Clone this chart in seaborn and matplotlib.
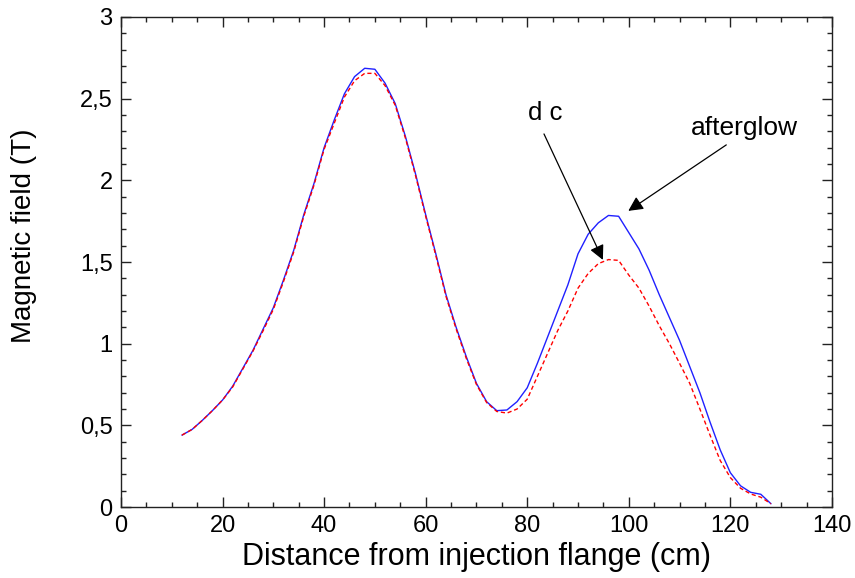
import numpy as np
import pandas as pd
import matplotlib
matplotlib.use("Agg")
import matplotlib.pyplot as plt
from matplotlib.ticker import MultipleLocator, FuncFormatter
import seaborn as sns

# distance from injection flange (cm)
distance = list(range(12, 130, 2))

# afterglow field (T)
afterglow = [0.44, 0.475, 0.53, 0.59, 0.655, 0.74, 0.85, 0.96, 1.09, 1.22,
             1.39, 1.57, 1.79, 1.98, 2.20, 2.37, 2.53, 2.635, 2.686, 2.68,
             2.595, 2.47, 2.27, 2.04, 1.79, 1.55, 1.30, 1.10, 0.92, 0.757,
             0.645, 0.59, 0.594, 0.645, 0.73, 0.88, 1.04, 1.20, 1.36, 1.55,
             1.67, 1.74, 1.785, 1.78, 1.68, 1.58, 1.45, 1.30, 1.16, 1.02,
             0.86, 0.70, 0.52, 0.35, 0.21, 0.13, 0.09, 0.078, 0.02]

# dc field (T)
dc = [0.44, 0.475, 0.53, 0.59, 0.655, 0.735, 0.845, 0.955, 1.08, 1.21,
      1.38, 1.56, 1.78, 1.97, 2.19, 2.35, 2.51, 2.61, 2.655, 2.655,
      2.58, 2.46, 2.26, 2.03, 1.78, 1.54, 1.29, 1.09, 0.91, 0.75,
      0.64, 0.585, 0.575, 0.60, 0.66, 0.80, 0.94, 1.08, 1.20, 1.34,
      1.43, 1.49, 1.515, 1.51, 1.42, 1.34, 1.23, 1.11, 1.00, 0.88,
      0.757, 0.60, 0.44, 0.285, 0.18, 0.115, 0.08, 0.06, 0.02]

df = pd.DataFrame({"distance": distance, "afterglow": afterglow, "dc": dc})

sns.set_style("ticks")
plt.rcParams['font.family'] = ['Liberation Sans', 'DejaVu Sans']
plt.rcParams['text.color'] = 'black'
plt.rcParams['axes.labelcolor'] = 'black'

fig = plt.figure(figsize=(8.55, 5.78), dpi=100)
ax = fig.add_axes([0.1415, 0.1228, 0.8315, 0.8478])

sns.lineplot(data=df, x="distance", y="afterglow", color="#2020ff", lw=1.0, ax=ax)
sns.lineplot(data=df, x="distance", y="dc", color="#ff0000", lw=1.0, ax=ax,
             linestyle=(0, (3, 2)))

ax.set_xlim(0, 140)
ax.set_ylim(0, 3)
ax.xaxis.set_major_locator(MultipleLocator(20))
ax.xaxis.set_minor_locator(MultipleLocator(5))
ax.yaxis.set_major_locator(MultipleLocator(0.5))
ax.yaxis.set_minor_locator(MultipleLocator(0.1))
ax.yaxis.set_major_formatter(FuncFormatter(lambda v, p: ("%g" % v).replace(".", ",")))

ax.tick_params(which="both", direction="in", top=True, right=True, colors="#222222",
               labelcolor="black", width=1)
ax.tick_params(which="major", length=7, labelsize=17, pad=6)
ax.tick_params(which="minor", length=3.5)
for s in ax.spines.values():
    s.set_color("#222222")
    s.set_linewidth(1)

ax.set_xlabel("Distance from injection flange (cm)", fontsize=22, labelpad=3)
ax.set_ylabel("Magnetic field (T)", fontsize=20)
ax.yaxis.set_label_coords(-0.118, 0.553)

arrow = dict(arrowstyle="-|>", color="black", lw=0.9, mutation_scale=22, shrinkA=0, shrinkB=0)
ax.annotate("", xy=(94.9, 1.513), xytext=(83.3, 2.284), arrowprops=arrow)
ax.text(83.5, 2.41, "d c", fontsize=18.5, ha="center", va="center")
ax.annotate("", xy=(99.9, 1.813), xytext=(119.2, 2.217), arrowprops=arrow)
ax.text(122.8, 2.32, "afterglow", fontsize=19, ha="center", va="center")

fig.savefig("out.png", dpi=100)
